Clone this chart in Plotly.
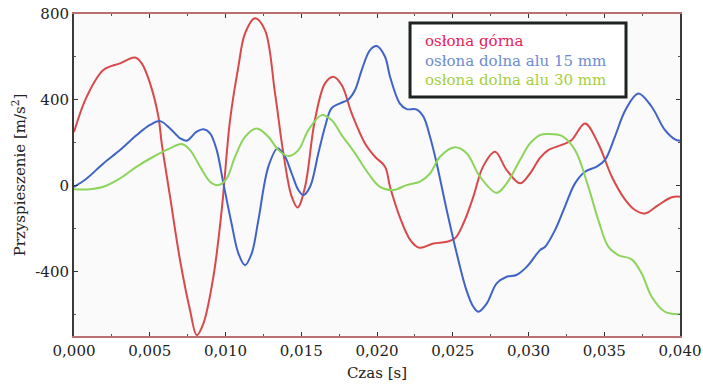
import plotly.graph_objects as go

# ---- data (time in ms, acceleration in m/s^2) ----
t_gorna = [0, 0.84, 1.94, 3.04, 4.03, 4.47, 5.02, 5.57, 5.79, 6.34, 7.0, 7.66, 8.1, 8.54, 9.2, 9.75,
           10.3, 10.85, 11.29, 11.95, 12.6, 13.27, 13.82, 14.37, 14.76, 15.25, 15.9, 16.57, 17.12,
           17.67, 18.33, 19.21, 19.87, 20.53, 20.86, 21.5, 22.2, 22.8, 23.72, 24.6, 25.15, 25.7,
           26.36, 27.0, 27.79, 28.56, 29.44, 30.1, 30.76, 31.3, 32.2, 32.85, 33.73, 34.6, 35.5,
           36.4, 37.03, 37.69, 38.57, 39.45, 40.0]
v_gorna = [250, 415, 539, 570, 597, 570, 477, 322, 197, -51, -347, -580, -696, -642, -424, -113,
           306, 555, 710, 780, 726, 430, 151, -51, -101, -5, 306, 477, 508,
           469, 337, 197, 135, 89, -5, -145, -253, -289, -269, -261, -245, -176,
           -51, 89, 158, 73, 11, 57, 130, 166, 190, 213, 290, 197, 42,
           -67, -113, -129, -90, -54, -51]

t_15 = [0, 0.84, 1.94, 3.04, 4.14, 5.02, 5.68, 6.34, 7.0, 7.44, 8.1, 8.54, 8.98, 9.42, 9.86,
        10.4, 10.85, 11.29, 11.73, 12.17, 12.83, 13.44, 13.93, 14.37, 14.81, 15.14, 15.58,
        16.13, 16.57, 17.0, 17.56, 18.11, 18.55, 18.99, 19.54, 19.98, 20.53, 20.86, 21.5,
        21.96, 22.6, 23.06, 23.5, 23.94, 24.6, 25.26, 25.9, 26.36, 26.69, 27.24, 27.9, 28.56,
        29.2, 29.88, 30.76, 31.1, 31.75, 32.4, 33.07, 33.73, 34.5, 35.05, 35.7, 36.4, 37.25,
        38.13, 39.0, 39.67, 40.0]
v_15 = [-5, 34, 104, 166, 236, 283, 301, 267, 221, 210, 252, 263, 244, 166, 11,
        -176, -315, -370, -315, -160, 89, 174, 135, 57, -20, -44, -5,
        151, 275, 361, 384, 402, 446, 539, 632, 651, 601, 508, 384,
        357, 356, 322, 228, 104, -113, -315, -486, -564, -587, -549, -455, -424,
        -416, -378, -300, -284, -207, -98, 11, 65, 89, 120, 228, 353, 430,
        368, 260, 216, 210]

t_30 = [0, 1.06, 1.94, 3.04, 4.14, 5.24, 6.34, 7.1, 7.66, 8.32, 8.98, 9.53, 10.08, 10.63,
        11.29, 12.06, 12.83, 13.49, 14.15, 14.81, 15.47, 16.35, 17.0, 17.67, 18.55, 19.43,
        20.2, 21.08, 21.96, 22.84, 23.5, 24.16, 25.15, 25.92, 26.8, 27.9, 28.56, 29.44, 30.1,
        30.76, 31.3, 32.2, 33.07, 33.95, 34.61, 35.27, 35.93, 36.81, 37.47, 38.13, 39.0,
        39.67, 40.0]
v_30 = [-16, -16, -5, 34, 89, 135, 174, 194, 166, 89, 19, 3, 34, 135,
        228, 267, 228, 166, 138, 166, 259, 329, 306, 236, 151, 57,
        -5, -20, 3, 19, 57, 135, 179, 151, 42, -33, 11, 120, 197,
        236, 241, 232, 166, -5, -160, -284, -323, -343, -409, -517, -587,
        -598, -598]

series_names = ["osłona górna", "osłona dolna alu 15 mm", "osłona dolna alu 30 mm"]
line_colors = ["#d9484a", "#3f64c6", "#8dd45c"]
legend_colors = ["#e8205a", "#6d8ccf", "#a6cf3c"]

x_tick_vals = [0, 0.005, 0.010, 0.015, 0.020, 0.025, 0.030, 0.035, 0.040]
x_tick_text = ["0,000", "0,005", "0,010", "0,015", "0,020", "0,025", "0,030", "0,035", "0,040"]
y_tick_vals = [-400, 0, 400, 800]
y_tick_text = ["-400", "0", "400", "800"]

FONT = "DejaVu Serif"

fig = go.Figure()
for (tt, vv), name, col in zip([(t_gorna, v_gorna), (t_15, v_15), (t_30, v_30)], series_names, line_colors):
    fig.add_trace(go.Scatter(
        x=[t / 1000 for t in tt], y=vv, mode="lines", name=name,
        line=dict(color=col, width=2, shape="spline", smoothing=1.0),
        showlegend=False))

# legend box (frame + coloured text lines)
fig.add_shape(type="rect", xref="paper", yref="paper",
              x0=0.5545, x1=0.9109, y0=0.742, y1=0.972,
              line=dict(color="#1e2422", width=3), fillcolor="white", layer="above")

legend_text = "<br>".join(
    f"<span style='color:{c}'>{n}</span>" for n, c in zip(series_names, legend_colors))

fig.add_annotation(
    xref="paper", yref="paper", x=0.576, y=0.857, xanchor="left", yanchor="middle",
    text=legend_text, showarrow=False, align="left",
    font=dict(family=FONT, size=15))

fig.update_layout(
    width=703, height=390,
    margin=dict(l=74, r=23, t=14, b=54),
    paper_bgcolor="white", plot_bgcolor="#fafafa",
    font=dict(family=FONT, size=15, color="#222"),
    xaxis=dict(
        range=[0, 0.04], tickvals=x_tick_vals, ticktext=x_tick_text,
        ticks="inside", ticklen=4, tickcolor="#333", tickwidth=1,
        minor=dict(dtick=0.0025, tick0=0, ticks="inside", ticklen=2, tickcolor="#555"),
        showline=True, linecolor="#b87070", linewidth=2, mirror="ticks",
        showgrid=False, zeroline=False, automargin=False,
        tickfont=dict(family=FONT, size=15),
        title=dict(text="Czas [s]", font=dict(family=FONT, size=15), standoff=8),
    ),
    yaxis=dict(
        range=[-700, 800], tickvals=y_tick_vals, ticktext=y_tick_text,
        ticks="inside", ticklen=4, tickcolor="#333", tickwidth=1,
        minor=dict(dtick=200, tick0=0, ticks="inside", ticklen=2, tickcolor="#555"),
        showline=True, linecolor="#3a3a3a", linewidth=2, mirror="ticks",
        showgrid=False, zeroline=False, automargin=False,
        tickfont=dict(family=FONT, size=15),
        title=dict(text="Przyspieszenie [m/s<sup>2</sup>]", font=dict(family=FONT, size=15), standoff=6),
    ),
)

fig.write_html("out.html", config={"displayModeBar": False},
               post_script="document.body.style.margin='0';")
